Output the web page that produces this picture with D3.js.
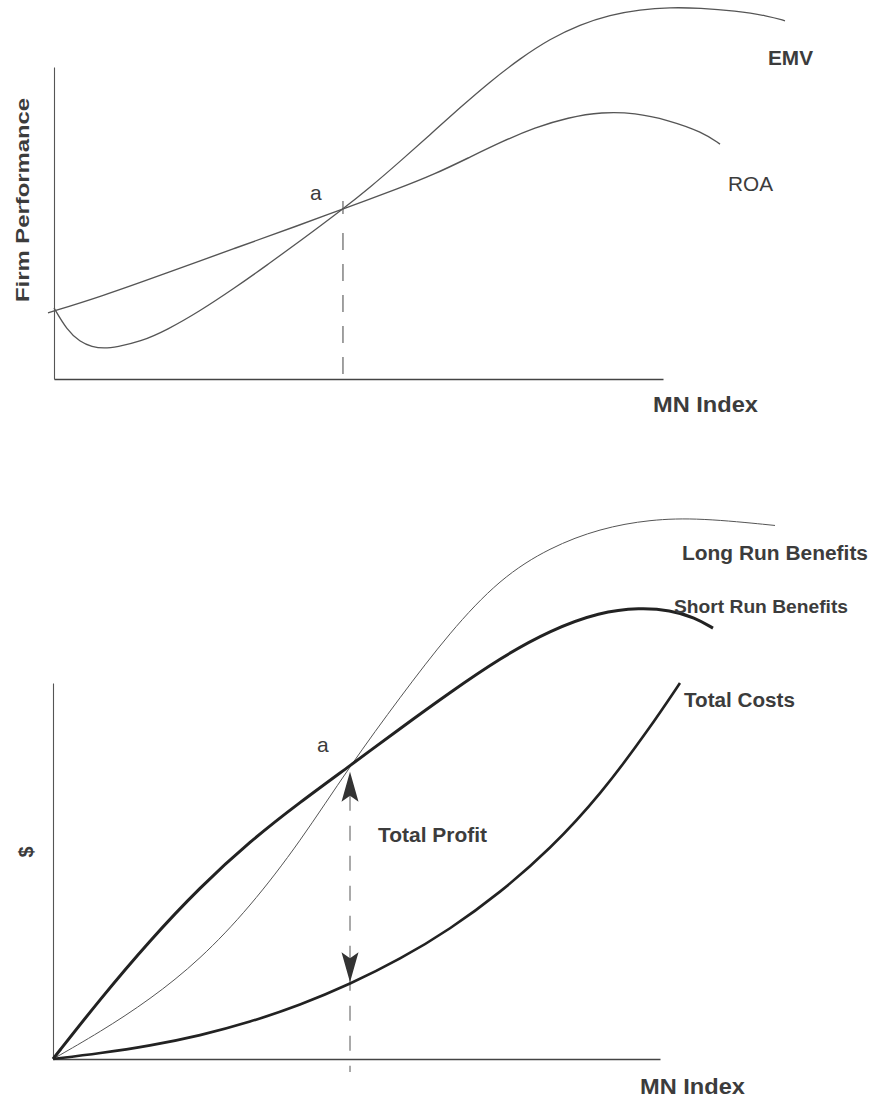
<!DOCTYPE html>
<html>
<head>
<meta charset="utf-8">
<script src="https://cdn.jsdelivr.net/npm/d3@7"></script>
<style>
  html, body { margin: 0; padding: 0; background: #fff; }
  svg { display: block; }
  text { font-family: "Liberation Sans", Arial, sans-serif; fill: #3c3c3c; }
</style>
</head>
<body>
<svg id="chart" width="875" height="1103"></svg>
<script>
// ---------- DATA (x = MN Index units, y = performance / $ units) ----------
// Top panel
const emvX = [0, 2.13, 4.27, 6.24, 8.21, 10.34, 14.12, 18.56, 23.97, 29.39, 34.98, 40.39, 47.45, 51.89, 56.81, 61.74, 66.67, 71.59, 76.52, 81.44, 86.37, 91.30, 96.22, 101.15, 106.08, 111.82, 117.24, 120.03];
const emvY = [22.8, 15.7, 11.9, 10.3, 9.8, 10.3, 11.9, 15.7, 21.8, 28.8, 36.5, 44.2, 54.5, 61.4, 69.7, 78.3, 87.0, 95.3, 102.7, 109.0, 113.6, 116.7, 118.4, 119.1, 118.9, 118.0, 116.4, 114.8];
const roaX = [-0.99, 7.55, 18.56, 29.39, 40.39, 47.45, 56.81, 62.56, 67.98, 73.56, 78.98, 84.40, 89.98, 95.40, 100.82, 106.40, 109.36];
const roaY = [21.2, 26.3, 34.0, 41.7, 49.4, 54.5, 61.2, 65.7, 70.8, 76.1, 80.6, 83.8, 85.6, 85.3, 83.0, 79.2, 75.3];
const topPointA = { x: 47.45, y: 54.5, label: "a" };

// Bottom panel
const longRunX = [0, 7.74, 15.98, 24.22, 32.45, 40.69, 48.93, 57.17, 65.40, 73.64, 81.88, 90.12, 98.35, 106.59, 118.95];
const longRunY = [0, 7.15, 15.8, 26.4, 40.4, 57.7, 78.0, 96.2, 113.6, 127.8, 136.1, 141.1, 143.5, 143.9, 141.9];
const shortRunX = [0, 7.74, 15.98, 24.22, 32.45, 40.69, 48.93, 57.17, 65.40, 73.64, 81.88, 90.12, 96.71, 101.65, 105.77, 108.73];
const shortRunY = [0, 15.9, 31.6, 45.7, 57.9, 68.3, 78.0, 87.9, 97.5, 106.6, 114.0, 118.9, 120.0, 119.4, 117.4, 114.6];
const costX = [0, 7.74, 15.98, 24.22, 32.45, 40.69, 48.93, 57.17, 65.40, 73.64, 81.88, 90.12, 98.35, 103.29];
const costY = [0, 1.5, 3.5, 6.2, 9.8, 14.3, 19.9, 26.5, 34.5, 44.2, 55.8, 70.1, 88.1, 100.0];
const bottomPointA = { x: 48.93, y: 78.0, label: "a" };
const profitCostY = 19.9;

// Labels
const topLabels = ["EMV", "ROA", "MN Index", "Firm Performance"];
const bottomLabels = ["Long Run Benefits", "Short Run Benefits", "Total Costs", "Total Profit", "MN Index", "$"];

const zip = (xs, ys) => xs.map((x, i) => ({ x, y: ys[i] }));

const svg = d3.select("#chart");
svg.append("rect").attr("width", 875).attr("height", 1103).attr("fill", "#fff");

// ---------- TOP PANEL ----------
const xT = d3.scaleLinear().domain([0, 100]).range([54, 663]);
const yT = d3.scaleLinear().domain([0, 100]).range([379, 67]);
const gT = svg.append("g");

const lineT = d3.line().x(d => xT(d.x)).y(d => yT(d.y)).curve(d3.curveBasis);

// axes (no ticks)
gT.append("g").attr("transform", `translate(0,${yT(0)})`)
  .call(d3.axisBottom(xT).ticks(0).tickSizeOuter(0))
  .call(g => g.select(".domain").attr("stroke", "#444").attr("stroke-width", 1.6));
gT.append("g").attr("transform", `translate(${xT(0)},0)`)
  .call(d3.axisLeft(yT).ticks(0).tickSizeOuter(0))
  .call(g => g.select(".domain").attr("stroke", "#555").attr("stroke-width", 1.1));

// dashed line from a
const ax = xT(topPointA.x), ay = yT(topPointA.y);
gT.append("line")
  .attr("x1", ax).attr("x2", ax)
  .attr("y1", ay + 24).attr("y2", yT(0))
  .attr("stroke", "#555").attr("stroke-width", 1.1)
  .attr("stroke-dasharray", "17,14");
gT.append("line")
  .attr("x1", ax).attr("x2", ax)
  .attr("y1", ay - 8).attr("y2", ay + 5)
  .attr("stroke", "#555").attr("stroke-width", 1.1);

gT.append("path").datum(zip(emvX, emvY)).attr("d", lineT)
  .attr("fill", "none").attr("stroke", "#555").attr("stroke-width", 1.3);
gT.append("path").datum(zip(roaX, roaY)).attr("d", lineT)
  .attr("fill", "none").attr("stroke", "#555").attr("stroke-width", 1.4);

gT.append("text").attr("x", ax - 33).attr("y", ay - 9)
  .attr("font-size", 21).text(topPointA.label);
gT.append("text").attr("x", 768).attr("y", 65).attr("font-size", 21).attr("font-weight", "bold")
  .attr("textLength", 45).attr("lengthAdjust", "spacingAndGlyphs").text(topLabels[0]);
gT.append("text").attr("x", 728).attr("y", 191).attr("font-size", 20)
  .attr("textLength", 45).attr("lengthAdjust", "spacingAndGlyphs").text(topLabels[1]);
gT.append("text").attr("x", 653).attr("y", 412).attr("font-size", 22).attr("font-weight", "bold")
  .attr("textLength", 105).attr("lengthAdjust", "spacingAndGlyphs").text(topLabels[2]);
gT.append("text").attr("transform", "translate(29,200) rotate(-90)")
  .attr("text-anchor", "middle").attr("font-size", 19).attr("font-weight", "bold")
  .attr("textLength", 204).attr("lengthAdjust", "spacingAndGlyphs").text(topLabels[3]);

// ---------- BOTTOM PANEL ----------
const xB = d3.scaleLinear().domain([0, 100]).range([53, 660]);
const yB = d3.scaleLinear().domain([0, 100]).range([1059, 683]);
const gB = svg.append("g");
const lineB = d3.line().x(d => xB(d.x)).y(d => yB(d.y)).curve(d3.curveBasis);

gB.append("g").attr("transform", `translate(0,${yB(0)})`)
  .call(d3.axisBottom(xB).ticks(0).tickSizeOuter(0))
  .call(g => g.select(".domain").attr("stroke", "#444").attr("stroke-width", 1.6));
gB.append("g").attr("transform", `translate(${xB(0)},0)`)
  .call(d3.axisLeft(yB).ticks(0).tickSizeOuter(0))
  .call(g => g.select(".domain").attr("stroke", "#555").attr("stroke-width", 1.1));

const px = xB(bottomPointA.x);
const upTip = yB(bottomPointA.y) + 6;
const downTip = yB(profitCostY) - 2;

// dashed profit line
gB.append("line")
  .attr("x1", px).attr("x2", px)
  .attr("y1", upTip + 24).attr("y2", yB(0) + 13)
  .attr("stroke", "#666").attr("stroke-width", 1.1)
  .attr("stroke-dasharray", "15,15");

gB.append("path").datum(zip(longRunX, longRunY)).attr("d", lineB)
  .attr("fill", "none").attr("stroke", "#555").attr("stroke-width", 1.0);
gB.append("path").datum(zip(shortRunX, shortRunY)).attr("d", lineB)
  .attr("fill", "none").attr("stroke", "#222").attr("stroke-width", 3);
gB.append("path").datum(zip(costX, costY)).attr("d", lineB)
  .attr("fill", "none").attr("stroke", "#222").attr("stroke-width", 2.6);

// arrow heads
const arrow = (tipY, dir) => {
  const L = 30 * dir, w = 8.5, notch = 24 * dir;
  return `M${px},${tipY} L${px + w},${tipY + L} L${px},${tipY + notch} L${px - w},${tipY + L} Z`;
};
gB.append("path").attr("d", arrow(upTip, 1)).attr("fill", "#333");
gB.append("path").attr("d", arrow(downTip, -1)).attr("fill", "#333");

gB.append("text").attr("x", px - 33).attr("y", yB(bottomPointA.y) - 14)
  .attr("font-size", 21).text(bottomPointA.label);
gB.append("text").attr("x", 682).attr("y", 560).attr("font-size", 20).attr("font-weight", "bold")
  .attr("textLength", 186).attr("lengthAdjust", "spacingAndGlyphs").text(bottomLabels[0]);
gB.append("text").attr("x", 674).attr("y", 613).attr("font-size", 19).attr("font-weight", "bold")
  .attr("textLength", 174).attr("lengthAdjust", "spacingAndGlyphs").text(bottomLabels[1]);
gB.append("text").attr("x", 684).attr("y", 707).attr("font-size", 20).attr("font-weight", "bold")
  .attr("textLength", 111).attr("lengthAdjust", "spacingAndGlyphs").text(bottomLabels[2]);
gB.append("text").attr("x", 378).attr("y", 842).attr("font-size", 20).attr("font-weight", "bold")
  .attr("textLength", 109).attr("lengthAdjust", "spacingAndGlyphs").text(bottomLabels[3]);
gB.append("text").attr("x", 640).attr("y", 1094).attr("font-size", 22).attr("font-weight", "bold")
  .attr("textLength", 105).attr("lengthAdjust", "spacingAndGlyphs").text(bottomLabels[4]);
gB.append("text").attr("transform", "translate(33,852) rotate(-90)")
  .attr("text-anchor", "middle").attr("font-size", 20).attr("font-weight", "bold")
  .text(bottomLabels[5]);
</script>
</body>
</html>
